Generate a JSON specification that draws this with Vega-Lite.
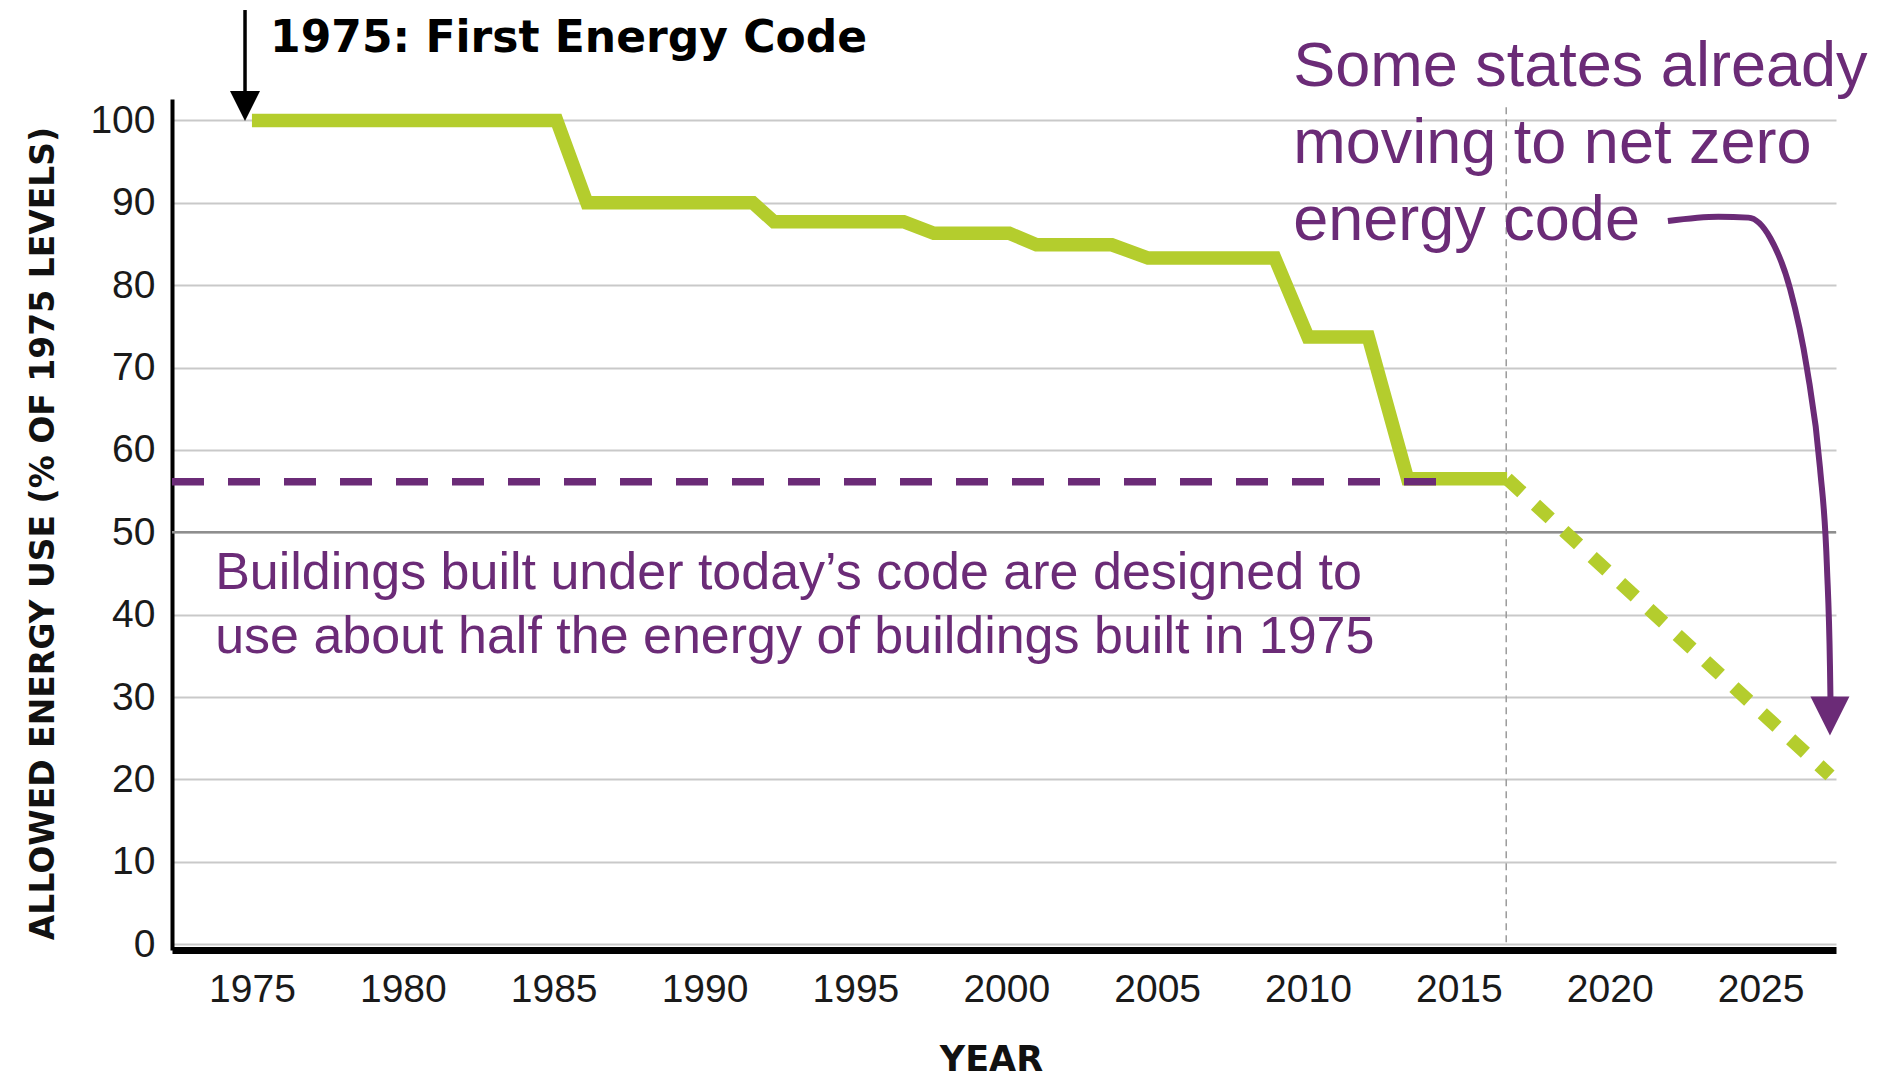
{
  "$schema": "https://vega.github.io/schema/vega-lite/v6.json",
  "width": 1664,
  "height": 851,
  "autosize": {"type": "none"},
  "padding": {"left": 172, "top": 99, "right": 54, "bottom": 129},
  "background": "white",
  "config": {
    "view": {"stroke": null},
    "axis": {"ticks": false, "tickSize": 0, "labelFlush": false, "domainColor": "#000000"}
  },
  "datasets": {
    "code": [
      {"year": 1975.0, "value": 100},
      {"year": 1985.1, "value": 100},
      {"year": 1986.1, "value": 90},
      {"year": 1991.6, "value": 90},
      {"year": 1992.3, "value": 87.7},
      {"year": 1996.6, "value": 87.7},
      {"year": 1997.6, "value": 86.3},
      {"year": 2000.1, "value": 86.3},
      {"year": 2001.0, "value": 84.9},
      {"year": 2003.5, "value": 84.9},
      {"year": 2004.7, "value": 83.3},
      {"year": 2008.9, "value": 83.3},
      {"year": 2010.0, "value": 73.7},
      {"year": 2012.0, "value": 73.7},
      {"year": 2013.3, "value": 56.5},
      {"year": 2016.6, "value": 56.5}
    ],
    "projection": [
      {"year": 2016.6, "value": 56.5},
      {"year": 2027.3, "value": 20.5}
    ],
    "grid50": [{"year": 1972.35, "year2": 2027.5, "value": 50}],
    "todayLine": [{"year": 1972.35, "year2": 2014.5, "value": 56.15}],
    "now": [{"year": 2016.57, "value": 101.6, "value2": 0}],
    "firstCodeArrow": [{"year": 1974.77, "value": 113.4, "value2": 102.5}],
    "firstCodeHead": [{"year": 1974.77, "value": 101.75}],
    "netZeroArrow": [
      {"i": 1, "year": 2021.93, "value": 87.79},
      {"i": 2, "year": 2023.6, "value": 88.3},
      {"i": 3, "year": 2024.6, "value": 88.2},
      {"i": 4, "year": 2025.32, "value": 85.73},
      {"i": 5, "year": 2025.98, "value": 79.54},
      {"i": 6, "year": 2026.54, "value": 69.83},
      {"i": 7, "year": 2026.97, "value": 57.81},
      {"i": 8, "year": 2027.2, "value": 45.79},
      {"i": 9, "year": 2027.3, "value": 33.77},
      {"i": 10, "year": 2027.32, "value": 29.0}
    ],
    "netZeroHead": [{"year": 2027.3, "value": 27.7}],
    "firstCodeLabel": [{"year": 1975.6, "value": 108.3, "label": "1975: First Energy Code"}],
    "netZeroLabel": [
      {"year": 2009.51, "value": 104.18, "label": "Some states already"},
      {"year": 2009.51, "value": 94.83, "label": "moving to net zero"},
      {"year": 2009.51, "value": 85.48, "label": "energy code"}
    ],
    "todayLabel": [
      {"year": 1973.78, "value": 43.12, "label": "Buildings built under today’s code are designed to"},
      {"year": 1973.78, "value": 35.35, "label": "use about half the energy of buildings built in 1975"}
    ]
  },
  "encoding": {
    "x": {
      "field": "year",
      "type": "quantitative",
      "scale": {"domain": [1972.35, 2027.5], "nice": false, "zero": false},
      "axis": {
        "values": [1975, 1980, 1985, 1990, 1995, 2000, 2005, 2010, 2015, 2020, 2025],
        "format": "d",
        "grid": false,
        "domainWidth": 7,
        "labelFont": "Liberation Sans",
        "labelFontSize": 39,
        "labelColor": "#1a1a1a",
        "labelPadding": 20,
        "title": "YEAR",
        "titleFont": "DejaVu Sans",
        "titleFontWeight": "bold",
        "titleFontSize": 35,
        "titleColor": "#111111",
        "titleX": 819,
        "titleY": 120,
        "titleAlign": "center",
        "titleBaseline": "alphabetic"
      }
    },
    "y": {
      "field": "value",
      "type": "quantitative",
      "scale": {"domain": [-0.7, 102.6], "nice": false, "zero": false},
      "axis": {
        "values": [0, 10, 20, 30, 40, 50, 60, 70, 80, 90, 100],
        "grid": true,
        "gridColor": "#c9c9c9",
        "gridWidth": 2,
        "domainWidth": 4,
        "labelFont": "Liberation Sans",
        "labelFontSize": 39,
        "labelColor": "#1a1a1a",
        "labelPadding": 17,
        "title": "ALLOWED ENERGY USE (% OF 1975 LEVELS)",
        "titleFont": "DejaVu Sans",
        "titleFontWeight": "bold",
        "titleFontSize": 33,
        "titleColor": "#111111",
        "titleAngle": -90,
        "titleX": -119,
        "titleY": 434,
        "titleAlign": "center",
        "titleBaseline": "alphabetic"
      }
    }
  },
  "layer": [
    {
      "data": {"name": "grid50"},
      "mark": {"type": "rule", "color": "#8e8e8e", "strokeWidth": 2.5},
      "encoding": {"x2": {"field": "year2"}}
    },
    {
      "data": {"name": "now"},
      "mark": {"type": "rule", "color": "#9a9a9a", "strokeWidth": 1.5, "strokeDash": [7, 5]},
      "encoding": {"y2": {"field": "value2"}}
    },
    {
      "data": {"name": "code"},
      "mark": {"type": "line", "color": "#b4cd2d", "strokeWidth": 13.5, "strokeJoin": "miter", "strokeCap": "butt"},
      "encoding": {}
    },
    {
      "data": {"name": "projection"},
      "mark": {"type": "line", "color": "#b4cd2d", "strokeWidth": 13.5, "strokeCap": "butt", "strokeDash": [20, 18.5]},
      "encoding": {}
    },
    {
      "data": {"name": "todayLine"},
      "mark": {"type": "rule", "color": "#6b2b77", "strokeWidth": 7.5, "strokeDash": [32, 24]},
      "encoding": {"x2": {"field": "year2"}}
    },
    {
      "data": {"name": "firstCodeArrow"},
      "mark": {"type": "rule", "color": "#000000", "strokeWidth": 3.5},
      "encoding": {"y2": {"field": "value2"}}
    },
    {
      "data": {"name": "firstCodeHead"},
      "mark": {"type": "point", "shape": "M-1,-1L1,-1L0,1Z", "size": 900, "filled": true, "opacity": 1, "color": "#000000"},
      "encoding": {}
    },
    {
      "data": {"name": "netZeroArrow"},
      "mark": {"type": "line", "color": "#6b2b77", "strokeWidth": 6, "interpolate": "monotone", "strokeCap": "butt"},
      "encoding": {"order": {"field": "i", "type": "quantitative"}}
    },
    {
      "data": {"name": "netZeroHead"},
      "mark": {"type": "point", "shape": "M-1,-1L1,-1L0,1Z", "size": 1521, "filled": true, "opacity": 1, "color": "#6b2b77"},
      "encoding": {}
    },
    {
      "data": {"name": "firstCodeLabel"},
      "mark": {"type": "text", "align": "left", "baseline": "alphabetic", "font": "DejaVu Sans", "fontWeight": "bold", "fontSize": 44, "color": "#000000"},
      "encoding": {"text": {"field": "label"}}
    },
    {
      "data": {"name": "netZeroLabel"},
      "mark": {"type": "text", "align": "left", "baseline": "alphabetic", "font": "Liberation Sans", "fontSize": 63, "color": "#6b2b77"},
      "encoding": {"text": {"field": "label"}}
    },
    {
      "data": {"name": "todayLabel"},
      "mark": {"type": "text", "align": "left", "baseline": "alphabetic", "font": "Liberation Sans", "fontSize": 52, "color": "#6b2b77"},
      "encoding": {"text": {"field": "label"}}
    }
  ]
}
